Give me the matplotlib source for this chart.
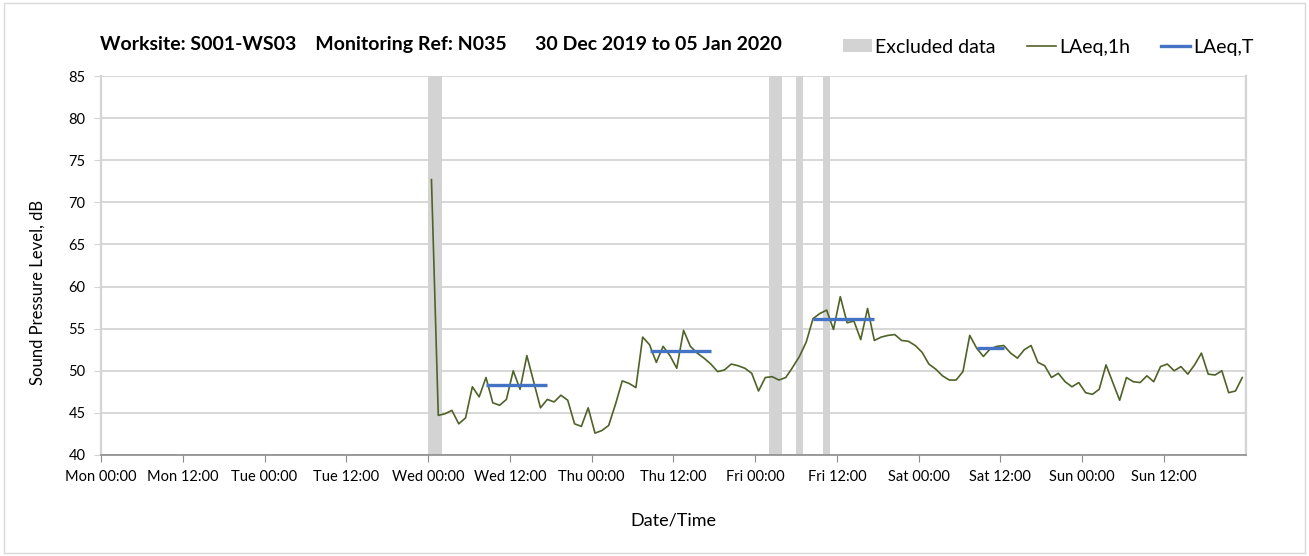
import matplotlib.pyplot as plt
from matplotlib.patches import Rectangle, Patch
from matplotlib.lines import Line2D
import numpy as np

plt.rcParams["font.family"] = ["Lato", "DejaVu Sans"]

# hourly LAeq,1h, first value at Wed 00:30 (hours counted from Mon 00:00)
first_hour = 48.5
laeq_1h = [
    72.7, 44.7, 44.9, 45.3, 43.7, 44.4, 48.1, 46.9, 49.2, 46.2,
    45.9, 46.6, 50.0, 47.8, 51.8, 48.7, 45.6, 46.6, 46.3, 47.1,
    46.5, 43.7, 43.4, 45.6, 42.6, 42.9, 43.5, 46.0, 48.8, 48.5,
    48.0, 54.0, 53.1, 51.0, 52.9, 51.8, 50.3, 54.8, 52.9, 52.1,
    51.5, 50.8, 49.9, 50.1, 50.8, 50.6, 50.3, 49.7, 47.6, 49.2,
    49.3, 48.9, 49.2, 50.4, 51.7, 53.4, 56.2, 56.8, 57.2, 54.9,
    58.8, 55.7, 55.9, 53.7, 57.4, 53.6, 54.0, 54.2, 54.3, 53.6,
    53.5, 53.0, 52.2, 50.8, 50.2, 49.4, 48.9, 48.9, 49.9, 54.2,
    52.7, 51.7, 52.6, 52.9, 53.0, 52.1, 51.5, 52.5, 53.0, 51.0,
    50.6, 49.2, 49.7, 48.7, 48.1, 48.6, 47.4, 47.2, 47.8, 50.7,
    48.6, 46.5, 49.2, 48.7, 48.6, 49.4, 48.7, 50.5, 50.8, 50.0,
    50.5, 49.6, 50.7, 52.1, 49.6, 49.5, 50.0, 47.4, 47.6, 49.2,
]

# LAeq,T over the working periods
period_start = [56.5, 80.5, 104.5, 128.5]
period_end = [65.5, 89.5, 113.5, 132.5]
laeq_t = [48.3, 52.4, 56.15, 52.7]

# excluded data periods
excl_start = [48, 98, 102, 106]
excl_end = [50, 100, 103, 107]

tick_labels = ["Mon 00:00", "Mon 12:00", "Tue 00:00", "Tue 12:00",
               "Wed 00:00", "Wed 12:00", "Thu 00:00", "Thu 12:00",
               "Fri 00:00", "Fri 12:00", "Sat 00:00", "Sat 12:00",
               "Sun 00:00", "Sun 12:00"]

green = "#4f6228"
blue = "#4472c4"
band = "#d3d3d3"
grid = "#d4d4d4"

fig = plt.figure(figsize=(13.09, 5.56), dpi=100)
ax = fig.add_axes([101 / 1309, 1 - 455 / 556, (1245.7 - 101) / 1309, (455 - 76) / 556])

hours = first_hour + np.arange(len(laeq_1h))

for s, e in zip(excl_start, excl_end):
    ax.axvspan(s, e, color=band, lw=0, zorder=1)

ax.plot(hours, laeq_1h, color=green, lw=1.2, zorder=3)
ax.hlines(laeq_t, period_start, period_end, color=blue, lw=2.4, zorder=4)

ax.set_xlim(0, 168)
ax.set_ylim(40, 85)
ax.set_yticks(np.arange(40, 86, 5))
ax.set_xticks(np.arange(0, 168, 12))
ax.set_xticklabels(tick_labels)
ax.set_xticks(np.arange(0, 169, 24), minor=True)
ax.tick_params(axis="x", which="major", length=5, color="#8c8c8c",
               labelsize=10.5, pad=6)
ax.tick_params(axis="x", which="minor", length=0)
ax.tick_params(axis="y", length=5, color=grid, labelsize=10.5, pad=6)

ax.grid(axis="y", color=grid, lw=1.3, zorder=0)
ax.grid(axis="x", which="minor", color=grid, lw=1.6, zorder=0)
ax.set_axisbelow(True)

ax.spines["top"].set_visible(False)
for side in ["left", "right"]:
    ax.spines[side].set_color(grid)
    ax.spines[side].set_linewidth(1.6)
ax.spines["bottom"].set_color("#8c8c8c")
ax.spines["bottom"].set_linewidth(1.2)

ax.set_ylabel("Sound Pressure Level, dB", fontsize=12)
ax.yaxis.set_label_coords(-0.048, 0.43)
ax.set_xlabel("Date/Time", fontsize=13, labelpad=20)

fig.text(100 / 1309, 1 - 45 / 556,
         "Worksite: S001-WS03    Monitoring Ref: N035      30 Dec 2019 to 05 Jan 2020",
         fontsize=14, fontweight="bold", ha="left", va="center")

handles = [
    Patch(facecolor=band, edgecolor="none"),
    Line2D([], [], color=green, lw=1.2),
    Line2D([], [], color=blue, lw=2.4),
]
fig.legend(handles, ["Excluded data", "LAeq,1h", "LAeq,T"],
           loc="center right", bbox_to_anchor=(1271 / 1309, 1 - 47 / 556),
           ncol=3, frameon=False, fontsize=14, handlelength=1.5,
           handletextpad=0.15, columnspacing=1.6, handleheight=0.6)

fig.patches.append(Rectangle((0.003, 0.005), 0.994, 0.99, transform=fig.transFigure,
                             fill=False, edgecolor="#d9d9d9", lw=1))

fig.savefig("out.png", dpi=100)
